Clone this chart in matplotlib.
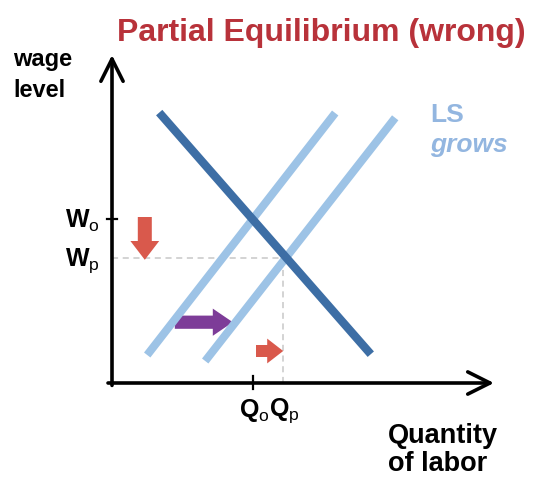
import matplotlib.pyplot as plt

plt.rcParams['font.family'] = ['Liberation Sans', 'DejaVu Sans']
plt.rcParams['mathtext.fontset'] = 'custom'
plt.rcParams['mathtext.bf'] = 'Liberation Sans:bold'
plt.rcParams['mathtext.rm'] = 'Liberation Sans'

# curves (quantity, wage) in chart units
demand_q = [1.18, 6.47]
demand_w = [6.76, 0.72]
supply_old_q = [0.88, 5.58]
supply_old_w = [0.70, 6.75]
supply_new_q = [2.33, 7.08]
supply_new_w = [0.55, 6.63]

# equilibrium levels
w_levels = [4.1, 3.12]      # W_o, W_p
q_levels = [3.52, 4.27]     # Q_o, Q_p
w_labels = [r'$\mathbf{W}_\mathrm{o}$', r'$\mathbf{W}_\mathrm{p}$']
q_labels = [r'$\mathbf{Q}_\mathrm{o}$', r'$\mathbf{Q}_\mathrm{p}$']

dark_blue = '#3D6EA5'
light_blue = '#9DC3E6'
text_blue = '#93B6E0'
red = '#D9594C'
purple = '#7D3C98'

fig = plt.figure(figsize=(5.33, 4.79), dpi=100)
ax = fig.add_axes([0, 0, 1, 1])
ax.set_xlim(-2.8, 10.525)
ax.set_ylim(-2.4, 9.575)
ax.axis('off')

# axes with open arrow heads
arrow = dict(arrowstyle='->,head_length=1.6,head_width=0.8', lw=2.6,
             color='black', mutation_scale=10, shrinkA=0, shrinkB=0)
ax.annotate('', xy=(9.55, 0), xytext=(-0.1, 0), arrowprops=arrow)
ax.annotate('', xy=(0, 8.2), xytext=(0, -0.06), arrowprops=arrow)

# dashed guides for the new equilibrium
ax.plot([0, q_levels[1]], [w_levels[1], w_levels[1]], ls=(0, (4, 3)), color='#C8C8C8', lw=1.1, zorder=1)
ax.plot([q_levels[1], q_levels[1]], [0, w_levels[1]], ls=(0, (4, 3)), color='#C8C8C8', lw=1.1, zorder=1)

# curves
ax.plot(supply_old_q, supply_old_w, color=light_blue, lw=5.8, solid_capstyle='butt', zorder=2)
ax.plot(supply_new_q, supply_new_w, color=light_blue, lw=5.8, solid_capstyle='butt', zorder=2)
ax.plot(demand_q, demand_w, color=dark_blue, lw=6, solid_capstyle='butt', zorder=3)

# ticks for the old equilibrium
ax.plot([-0.13, 0.13], [w_levels[0], w_levels[0]], color='black', lw=1.6)
ax.plot([q_levels[0], q_levels[0]], [-0.15, 0.17], color='black', lw=1.6)

for w, lab in zip(w_levels, w_labels):
    ax.text(-0.3, w - 0.05, lab, ha='right', va='center', fontsize=18)
for q, lab in zip(q_levels, q_labels):
    ax.text(q + 0.05, -0.7, lab, ha='center', va='center', fontsize=18)

# block arrows
ax.arrow(0.82, 4.15, 0, -0.6, width=0.35, head_width=0.72, head_length=0.47,
         color=red, lw=0)
ax.arrow(1.57, 1.52, 0.95, 0, width=0.33, head_width=0.68, head_length=0.5,
         color=purple, lw=0)
ax.arrow(3.6, 0.8, 0.28, 0, width=0.3, head_width=0.62, head_length=0.4,
         color=red, lw=0)

# texts
fig.text(321 / 533, 1 - 33 / 479, 'Partial Equilibrium (wrong)', ha='center', va='center',
         fontsize=23, fontweight='bold', color='#B8323A')
fig.text(13 / 533, 1 - 66 / 479, 'wage', ha='left', va='baseline', fontsize=17, fontweight='bold')
fig.text(13 / 533, 1 - 97 / 479, 'level', ha='left', va='baseline', fontsize=17, fontweight='bold')
fig.text(388 / 533, 1 - 443 / 479, 'Quantity', ha='left', va='baseline', fontsize=19.5, fontweight='bold')
fig.text(388 / 533, 1 - 471 / 479, 'of labor', ha='left', va='baseline', fontsize=19.5, fontweight='bold')
fig.text(430 / 533, 1 - 122 / 479, 'LS', ha='left', va='baseline', fontsize=19,
         fontweight='bold', color=text_blue)
fig.text(430 / 533, 1 - 152 / 479, 'grows', ha='left', va='baseline', fontsize=19,
         fontweight='bold', style='italic', color=text_blue)

fig.savefig('out.png', dpi=100)
